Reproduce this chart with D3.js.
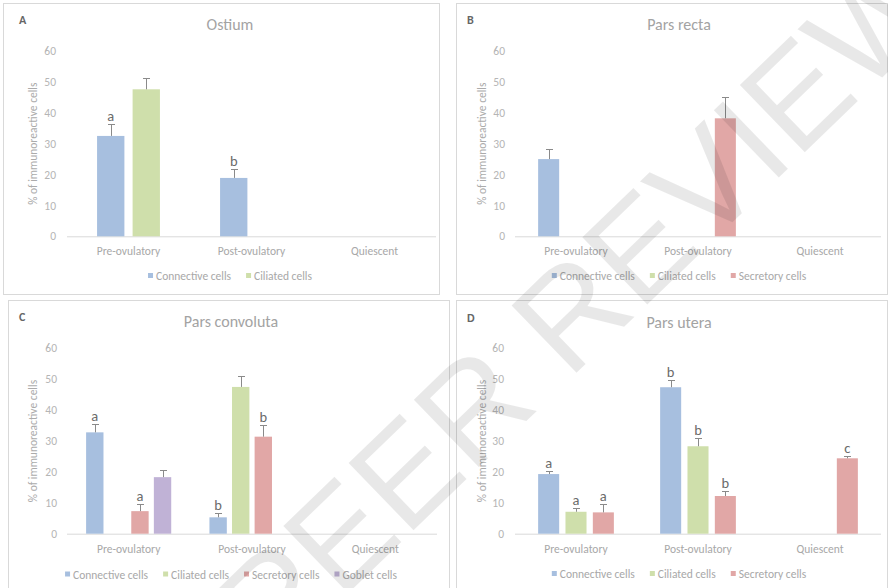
<!DOCTYPE html>
<html>
<head>
<meta charset="utf-8">
<script src="https://cdn.jsdelivr.net/npm/d3@7"></script>
<style>
  body { margin: 0; background: #fff; }
  svg { display: block; }
</style>
</head>
<body>
<svg id="chart" width="888" height="588"></svg>
<script>
// ---- data ----
const categories = ["Pre-ovulatory", "Post-ovulatory", "Quiescent"];
const yTicks = [0, 10, 20, 30, 40, 50, 60];

// Ostium
const ostiumSeries = ["Connective cells", "Ciliated cells"];
const ostiumMean = [[32.5, 18.9, null], [47.6, null, null]];
const ostiumErr = [[3.8, 3.0, 0], [3.5, 0, 0]];
const ostiumLetters = [["a", "b", ""], ["", "", ""]];

// Pars recta
const rectaSeries = ["Connective cells", "Ciliated cells", "Secretory cells"];
const rectaMean = [[25.0, null, null], [null, null, null], [null, 38.2, null]];
const rectaErr = [[3.2, 0, 0], [0, 0, 0], [0, 6.8, 0]];
const rectaLetters = [["", "", ""], ["", "", ""], ["", "", ""]];

// Pars convoluta
const convolutaSeries = ["Connective cells", "Ciliated cells", "Secretory cells", "Goblet cells"];
const convolutaMean = [[32.8, 5.3, null], [null, 47.5, null], [7.3, 31.4, null], [18.3, null, null]];
const convolutaErr = [[2.6, 1.3, 0], [0, 3.6, 0], [2.4, 3.7, 0], [2.4, 0, 0]];
const convolutaLetters = [["a", "b", ""], ["", "", ""], ["a", "b", ""], ["", "", ""]];

// Pars utera
const uteraSeries = ["Connective cells", "Ciliated cells", "Secretory cells"];
const uteraMean = [[19.3, 47.4, null], [7.1, 28.3, null], [6.9, 12.2, 24.4]];
const uteraErr = [[1.0, 2.5, 0], [1.1, 2.6, 0], [2.7, 1.5, 0.8]];
const uteraLetters = [["a", "b", ""], ["a", "b", ""], ["a", "b", "c"]];

const seriesColors = {
  "Connective cells": "#a7bfdf",
  "Ciliated cells": "#cfdfab",
  "Secretory cells": "#e1a7a6",
  "Goblet cells": "#c0b2d6"
};

// ---- layout ----
const FONT = "Carlito, Lato, 'Liberation Sans', sans-serif";
const panels = [
  { tag: "A", title: "Ostium", box: [3, 3, 440, 295], plot: [67, 436, 236.3, 51],
    tickRight: 56, axisTitleX: 33, centerX: 230, titleY: 30, legendY: 280,
    series: ostiumSeries, mean: ostiumMean, err: ostiumErr, letters: ostiumLetters },
  { tag: "B", title: "Pars recta", box: [456, 3, 888, 295], plot: [515, 881, 236.3, 51],
    tickRight: 505, axisTitleX: 482, centerX: 679, titleY: 30, legendY: 280,
    series: rectaSeries, mean: rectaMean, err: rectaErr, letters: rectaLetters },
  { tag: "C", title: "Pars convoluta", box: [8, 300, 450, 592], plot: [67, 437, 533.7, 348.3],
    tickRight: 57, axisTitleX: 33, centerX: 231, titleY: 327, legendY: 578.5,
    series: convolutaSeries, mean: convolutaMean, err: convolutaErr, letters: convolutaLetters },
  { tag: "D", title: "Pars utera", box: [456, 300, 888, 592], plot: [515, 881, 533.7, 348.3],
    tickRight: 504, axisTitleX: 482, centerX: 679, titleY: 328, legendY: 578,
    series: uteraSeries, mean: uteraMean, err: uteraErr, letters: uteraLetters }
];

const svg = d3.select("#chart");

function drawPanel(p) {
  const g = svg.append("g");
  const [bx0, by0, bx1, by1] = p.box;
  const [px0, px1, py0, py60] = p.plot;

  g.append("rect")
    .attr("x", bx0 + 0.5).attr("y", by0 + 0.5)
    .attr("width", bx1 - bx0 - 1).attr("height", by1 - by0 - 1)
    .attr("fill", "#fff").attr("stroke", "#d9d9d9").attr("stroke-width", 1);

  g.append("text")
    .attr("x", p.tag === "A" || p.tag === "C" ? 19 : 467)
    .attr("y", p.titleY - 6)
    .attr("font-family", FONT).attr("font-size", 12).attr("font-weight", "bold")
    .attr("fill", "#666").text(p.tag);

  g.append("text")
    .attr("x", p.centerX).attr("y", p.titleY)
    .attr("text-anchor", "middle")
    .attr("font-family", FONT).attr("font-size", 16)
    .attr("fill", "#a3a3a3").text(p.title);

  const x0 = d3.scaleBand().domain(categories).range([px0, px1]);
  const n = p.series.length;
  const barW = x0.bandwidth() / (n * 1.3 + 1.9);
  const groupW = barW * (n * 1.3 - 0.3);
  const x1 = d3.scaleBand().domain(p.series)
    .range([-groupW / 2, groupW / 2]).paddingInner(0.3 / 1.3);
  const y = d3.scaleLinear().domain([0, 60]).range([py0, py60]);

  // y axis
  const ya = g.append("g")
    .attr("transform", `translate(${p.tickRight},0)`)
    .call(d3.axisLeft(y).tickValues(yTicks).tickSize(0).tickPadding(0));
  ya.select(".domain").remove();
  ya.attr("font-family", FONT).attr("font-size", 11.5);
  ya.selectAll("text").attr("fill", "#b5b5b5");

  g.append("text")
    .attr("transform", `translate(${p.axisTitleX},${(py0 + py60) / 2}) rotate(-90)`)
    .attr("text-anchor", "middle").attr("dy", "0.35em")
    .attr("font-family", FONT).attr("font-size", 11.5)
    .attr("fill", "#ababab").text("% of immunoreactive cells");

  // baseline
  g.append("line")
    .attr("x1", px0).attr("x2", px1).attr("y1", py0 + 0.5).attr("y2", py0 + 0.5)
    .attr("stroke", "#d9d9d9").attr("stroke-width", 1);

  // x axis
  const xa = g.append("g")
    .attr("transform", `translate(0,${py0})`)
    .call(d3.axisBottom(x0).tickSize(0).tickPadding(11));
  xa.select(".domain").remove();
  xa.attr("font-family", FONT).attr("font-size", 11.5);
  xa.selectAll("text").attr("fill", "#a8a8a8");

  // bars
  const rows = [];
  p.series.forEach((s, i) => {
    categories.forEach((c, j) => {
      const v = p.mean[i][j];
      if (v == null) return;
      rows.push({ s, c, v, e: p.err[i][j], l: p.letters[i][j] });
    });
  });

  const bars = g.append("g");
  bars.selectAll("rect").data(rows).join("rect")
    .attr("x", d => x0(d.c) + x0.bandwidth() / 2 + x1(d.s))
    .attr("y", d => y(d.v))
    .attr("width", x1.bandwidth())
    .attr("height", d => y(0) - y(d.v))
    .attr("fill", d => seriesColors[d.s]);

  // error bars (upper half)
  const eb = g.append("g").attr("stroke", "#8a8a8a").attr("stroke-width", 1);
  rows.filter(d => d.e > 0).forEach(d => {
    const cx = Math.round(x0(d.c) + x0.bandwidth() / 2 + x1(d.s) + x1.bandwidth() / 2) + 0.5;
    const top = Math.round(y(d.v + d.e)) + 0.5;
    eb.append("line").attr("x1", cx).attr("x2", cx).attr("y1", y(d.v)).attr("y2", top);
    eb.append("line").attr("x1", cx - 3.5).attr("x2", cx + 3.5).attr("y1", top).attr("y2", top);
  });

  // significance letters
  g.append("g").selectAll("text").data(rows.filter(d => d.l)).join("text")
    .attr("x", d => x0(d.c) + x0.bandwidth() / 2 + x1(d.s) + x1.bandwidth() / 2)
    .attr("y", d => y(d.v + d.e) - 3)
    .attr("text-anchor", "middle")
    .attr("font-family", FONT).attr("font-size", 14.5)
    .attr("fill", "#6b6b6b")
    .text(d => d.l);

  // legend
  const lg = g.append("g");
  let cursor = 0;
  p.series.forEach(s => {
    const item = lg.append("g").attr("transform", `translate(${cursor},0)`);
    item.append("rect").attr("x", 0).attr("y", -7).attr("width", 5).attr("height", 5)
      .attr("fill", seriesColors[s]);
    const t = item.append("text").attr("x", 8).attr("y", 0)
      .attr("font-family", FONT).attr("font-size", 11.5)
      .attr("fill", "#a8a8a8").text(s);
    cursor += 8 + t.node().getComputedTextLength() + 15;
  });
  const total = cursor - 15;
  lg.attr("transform", `translate(${p.centerX - total / 2},${p.legendY})`);
}

panels.forEach(drawPanel);

// watermark (runs off the page edges, as in the original)
svg.append("text")
  .attr("transform", "translate(582,302) rotate(-44)")
  .attr("text-anchor", "middle").attr("dominant-baseline", "central")
  .attr("font-family", "'Liberation Sans', Arial, sans-serif")
  .attr("font-size", 136)
  .attr("fill", "#000").attr("fill-opacity", 0.09)
  .style("pointer-events", "none")
  .text("PEER REVIEW");
</script>
</body>
</html>
